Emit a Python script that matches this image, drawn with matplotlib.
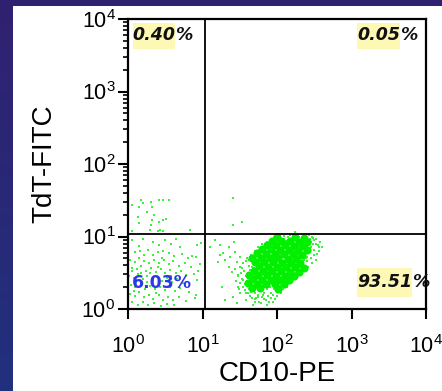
import matplotlib
matplotlib.use("Agg")
import matplotlib.pyplot as plt
from matplotlib.patches import Rectangle
import numpy as np

plt.rcParams['font.family'] = ['Liberation Sans', 'DejaVu Sans']
plt.rcParams['mathtext.fontset'] = 'custom'
plt.rcParams['mathtext.rm'] = 'Liberation Sans'

# quadrant gates and percentages
cd10_gate = 10.7
tdt_gate = 10.8
pct_ul = "0.40"
pct_ur = "0.05"
pct_ll = "6.03%"
pct_lr = "93.51"
decades = [0, 1, 2, 3, 4]

# events as log10 decades (CD10, TdT)
ll_events = [(0.05, 0.95), (0.20, 0.97), (0.33, 0.93), (0.42, 0.88), (0.50, 0.95), (0.58, 0.90),
             (0.65, 0.96), (0.86, 0.73), (0.92, 0.88), (0.10, 0.78), (0.16, 0.80), (0.27, 0.82),
             (0.33, 0.75), (0.40, 0.78), (0.47, 0.80), (0.55, 0.77), (0.62, 0.73), (0.72, 0.76),
             (0.80, 0.70), (0.03, 0.68), (0.09, 0.65), (0.15, 0.70), (0.22, 0.66), (0.28, 0.63),
             (0.35, 0.68), (0.42, 0.64), (0.48, 0.67), (0.55, 0.62), (0.61, 0.66), (0.69, 0.60),
             (0.76, 0.63), (0.85, 0.58), (0.05, 0.57), (0.12, 0.55), (0.18, 0.59), (0.24, 0.53),
             (0.31, 0.57), (0.37, 0.51), (0.44, 0.55), (0.50, 0.50), (0.57, 0.54), (0.64, 0.49),
             (0.71, 0.52), (0.78, 0.47), (0.02, 0.46), (0.08, 0.43), (0.14, 0.48), (0.20, 0.41),
             (0.26, 0.45), (0.33, 0.40), (0.39, 0.44), (0.46, 0.38), (0.52, 0.43), (0.59, 0.37),
             (0.66, 0.42), (0.74, 0.36), (0.93, 0.40), (0.04, 0.33), (0.10, 0.30), (0.17, 0.35),
             (0.23, 0.28), (0.30, 0.32), (0.36, 0.27), (0.43, 0.31), (0.49, 0.26), (0.56, 0.30),
             (0.63, 0.25), (0.70, 0.29), (0.82, 0.24), (0.03, 0.21), (0.09, 0.18), (0.15, 0.23),
             (0.21, 0.16), (0.28, 0.20), (0.34, 0.14), (0.41, 0.19), (0.47, 0.13), (0.54, 0.17),
             (0.60, 0.12), (0.68, 0.16), (0.78, 0.11), (0.90, 0.15), (0.06, 0.09), (0.13, 0.06),
             (0.20, 0.10), (0.27, 0.05), (0.35, 0.08), (0.44, 0.04), (0.52, 0.07), (0.62, 0.05),
             (0.12, 0.40), (0.25, 0.37), (0.18, 0.50), (0.06, 0.52), (0.30, 0.49), (0.40, 0.58),
             (0.22, 0.74), (0.45, 0.70), (0.08, 0.25), (0.38, 0.22), (0.58, 0.45), (0.96, 0.62),
             (0.88, 0.48), (0.15, 0.87), (0.70, 0.85), (0.91, 0.72), (0.98, 0.91), (0.94, 0.52),
             (0.91, 0.19)]

ul_events = [(0.17, 1.50), (0.20, 1.46), (0.15, 1.41), (0.31, 1.48), (0.32, 1.41), (0.42, 1.50),
             (0.47, 1.50), (0.55, 1.51), (0.26, 1.34), (0.35, 1.30), (0.13, 1.27), (0.42, 1.20),
             (0.51, 1.24), (0.15, 1.18), (0.31, 1.16), (0.29, 1.09), (0.47, 1.07), (0.06, 1.07),
             (0.40, 1.08), (0.32, 1.23), (0.47, 1.23), (0.43, 1.09), (0.83, 1.09), (0.05, 1.43)]

ur_events = [(1.41, 1.53), (1.41, 1.16), (1.53, 1.20), (2.24, 1.06)]

lr_sparse = [(1.10, 0.86), (1.17, 0.95), (1.23, 0.88), (1.23, 0.74), (1.21, 0.65), (1.28, 0.77),
             (1.30, 0.68), (1.35, 0.86), (1.37, 0.72), (1.35, 0.58), (1.39, 0.51), (1.44, 0.79),
             (1.46, 0.65), (1.48, 0.45), (1.48, 0.31), (1.50, 0.72), (1.53, 0.56), (1.41, 0.17),
             (1.30, 0.12), (1.46, 0.08), (1.57, 0.26), (1.61, 0.22), (1.66, 0.15), (1.70, 0.10),
             (1.75, 0.17), (1.55, 0.40), (2.48, 0.98), (1.26, 0.30), (1.42, 0.93)]

lr_halo = [(1.55, 0.30), (1.58, 0.22), (1.60, 0.38), (1.62, 0.28), (1.64, 0.18), (1.66, 0.44),
           (1.67, 0.33), (1.69, 0.25), (1.70, 0.14), (1.72, 0.40), (1.73, 0.30), (1.75, 0.20),
           (1.76, 0.10), (1.78, 0.27), (1.80, 0.16), (1.82, 0.30), (1.83, 0.22), (1.85, 0.12),
           (1.87, 0.27), (1.88, 0.18), (1.90, 0.30), (1.92, 0.22), (1.94, 0.35), (1.96, 0.28),
           (1.98, 0.38), (2.01, 0.33), (2.03, 0.42), (2.06, 0.40), (2.09, 0.46), (2.12, 0.44),
           (2.15, 0.50), (2.18, 0.53), (2.21, 0.56), (2.24, 0.60), (2.27, 0.58), (2.30, 0.65),
           (2.33, 0.70), (2.36, 0.68), (2.38, 0.75), (2.41, 0.80), (2.44, 0.78), (2.46, 0.86),
           (2.49, 0.82), (2.52, 0.90), (2.55, 0.88), (2.50, 0.95), (2.45, 0.93), (2.40, 0.96),
           (2.42, 0.88), (2.36, 0.92), (2.38, 0.99), (2.33, 0.96), (2.30, 1.00), (2.27, 0.95),
           (2.24, 0.98), (2.21, 1.01), (2.18, 0.96), (2.15, 0.99), (2.12, 0.94), (2.09, 0.97),
           (2.06, 0.92), (2.03, 0.95), (2.00, 0.89), (1.97, 0.92), (1.94, 0.86), (1.91, 0.84),
           (1.88, 0.80), (1.85, 0.78), (1.82, 0.74), (1.79, 0.72), (1.76, 0.69), (1.73, 0.66),
           (1.70, 0.62), (1.67, 0.58), (1.64, 0.54), (1.61, 0.50), (1.58, 0.46), (1.56, 0.52),
           (1.53, 0.42), (1.51, 0.36), (1.49, 0.28), (1.47, 0.47), (1.50, 0.58), (1.55, 0.63),
           (1.60, 0.70), (1.65, 0.75), (1.70, 0.80), (1.75, 0.86), (1.80, 0.90), (1.86, 0.93),
           (1.92, 0.97), (2.35, 0.60), (2.40, 0.66), (2.45, 0.70), (2.50, 0.74), (2.56, 0.80),
           (2.60, 0.85), (2.58, 0.93), (2.28, 0.52), (2.22, 0.47), (2.16, 0.42), (2.10, 0.37),
           (2.04, 0.32), (1.98, 0.25), (1.92, 0.15), (2.00, 0.18), (1.86, 0.06), (1.95, 0.10),
           (1.62, 0.60), (1.58, 0.66), (1.63, 0.68), (1.57, 0.34), (1.61, 0.45), (1.66, 0.50),
           (1.68, 0.38), (1.65, 0.24), (1.72, 0.15), (1.78, 0.08), (1.83, 0.14), (1.89, 0.10),
           (1.97, 0.14), (2.05, 0.22), (2.08, 0.28), (2.13, 0.30), (2.19, 0.38), (2.25, 0.42),
           (2.31, 0.47), (2.37, 0.52), (2.42, 0.58), (2.47, 0.64), (2.52, 0.68), (2.54, 0.76),
           (2.57, 0.86), (2.53, 0.97), (2.47, 1.00), (2.43, 1.02), (2.35, 1.01), (2.26, 1.02),
           (2.17, 1.02), (2.10, 1.01), (2.02, 1.00), (1.96, 0.99), (1.89, 0.91), (1.83, 0.86),
           (1.77, 0.80), (1.71, 0.74), (1.66, 0.70), (1.52, 0.50), (1.45, 0.38), (1.44, 0.55),
           (1.50, 0.22), (1.58, 0.12), (1.68, 0.06), (2.40, 0.72), (2.44, 0.84), (2.48, 0.90),
           (2.34, 0.84), (2.30, 0.90), (2.37, 0.78), (2.28, 0.74), (2.34, 0.64), (2.20, 0.92),
           (2.25, 0.88), (1.63, 0.36), (1.69, 0.56), (1.74, 0.74), (1.80, 0.82), (1.93, 0.90),
           (2.07, 0.96), (2.31, 0.58), (2.26, 0.50), (2.18, 0.45), (2.11, 0.40), (2.39, 0.70),
           (2.44, 0.97), (1.81, 0.20), (1.71, 0.22), (1.95, 0.20)]

# the solid core of the CD10+ blast cluster
lr_core = [(1.658, 0.290), (1.606, 0.352),
           (1.778, 0.287), (1.727, 0.348), (1.675, 0.410), (1.624, 0.471),
           (1.847, 0.345), (1.796, 0.406), (1.744, 0.468), (1.693, 0.529),
           (1.968, 0.342), (1.916, 0.403), (1.865, 0.464), (1.813, 0.526), (1.762, 0.587), (1.710, 0.648),
           (2.037, 0.400), (1.985, 0.461), (1.934, 0.522), (1.882, 0.584), (1.831, 0.645), (1.779, 0.706),
           (2.106, 0.458), (2.054, 0.519), (2.003, 0.580), (1.951, 0.642), (1.900, 0.703), (1.848, 0.764),
           (2.175, 0.516), (2.123, 0.577), (2.072, 0.638), (2.020, 0.700), (1.969, 0.761), (1.917, 0.822),
           (2.244, 0.573), (2.192, 0.634), (2.141, 0.695), (2.089, 0.757), (2.038, 0.818), (1.986, 0.879),
           (2.313, 0.631), (2.261, 0.692), (2.210, 0.753), (2.158, 0.815), (2.107, 0.876), (2.055, 0.937),
           (2.330, 0.750), (2.279, 0.811), (2.227, 0.873), (2.176, 0.934),
           (2.399, 0.808), (2.348, 0.869), (2.296, 0.931), (2.245, 0.992),
           (2.409, 0.920), (2.357, 0.982),
           (1.659, 0.709), (1.728, 0.767), (1.797, 0.825), (1.866, 0.883), (1.935, 0.940), (2.004, 0.998),
           (2.019, 0.281), (2.088, 0.339), (2.157, 0.397), (2.226, 0.455), (2.295, 0.512), (2.364, 0.570)]

W, H = 442, 391
fig = plt.figure(figsize=(W / 100, H / 100), dpi=100, facecolor='white')

# slide background: thin strips on the left and top of the white panel
top = np.array([0.19, 0.13, 0.44])
bot = np.array([0.13, 0.19, 0.49])
grad = top + (bot - top) * np.linspace(0, 1, 64)[:, None, None] * np.ones((1, 2, 1))
strip_l = fig.add_axes([0, 0, 13 / W, 1])
strip_l.imshow(grad, aspect='auto')
strip_l.axis('off')
strip_t = fig.add_axes([0, 1 - 6 / H, 1, 6 / H])
strip_t.imshow(np.full((1, 2, 3), top), aspect='auto')
strip_t.axis('off')

ax = fig.add_axes([128 / W, 1 - 309 / H, 298 / W, 290 / H])
ax.set_xscale('log')
ax.set_yscale('log')
ax.set_xlim(10 ** decades[0], 10 ** decades[-1])
ax.set_ylim(10 ** decades[0], 10 ** decades[-1])

green = '#3cf03c'
for pop in (ll_events, ul_events, ur_events, lr_sparse, lr_halo):
    arr = np.power(10.0, np.array(pop))
    ax.scatter(arr[:, 0], arr[:, 1], s=3, marker='s', color=green, linewidths=0, zorder=2)
core = np.power(10.0, np.array(lr_core))
ax.scatter(core[:, 0], core[:, 1], s=34, marker='o', color='#00f000', linewidths=0, zorder=2)

ax.axvline(cd10_gate, color='black', lw=1.3, zorder=3)
ax.axhline(tdt_gate, color='black', lw=1.3, zorder=3)

for s in ax.spines.values():
    s.set_linewidth(1.6)

ticks = [10.0 ** d for d in decades]
labels = [r'$\mathregular{10^{%d}}$' % d for d in decades]
ax.set_xticks(ticks, labels)
ax.set_yticks(ticks, labels)
ax.tick_params(which='major', direction='out', length=7, width=1.5, labelsize=15.5)
ax.tick_params(which='minor', direction='out', length=3.5, width=1.2)
ax.tick_params(axis='x', which='major', pad=12)
ax.tick_params(axis='y', which='major', pad=2)

ax.set_xlabel('CD10-PE', fontsize=20, labelpad=2)
ax.set_ylabel('TdT-FITC', fontsize=20, labelpad=17)

# quadrant percentages, yellow highlight behind the number
hl = '#fdf8b4'
tk = dict(fontsize=12.5, fontweight='bold', family='DejaVu Sans',
          transform=ax.transAxes, va='center', zorder=5)
for x0, x1, y0, y1, txt in [(0.017, 0.158, 0.897, 0.986, pct_ul),
                            (0.768, 0.913, 0.897, 0.986, pct_ur),
                            (0.768, 0.953, 0.041, 0.141, pct_lr)]:
    ax.add_patch(Rectangle((x0, y0), x1 - x0, y1 - y0, transform=ax.transAxes,
                           color=hl, lw=0, zorder=4))
    ax.text(x1, (y0 + y1) / 2 + 0.003, txt, ha='right', style='italic', color='#111111', **tk)
    ax.text(x1, (y0 + y1) / 2 + 0.003, '%', ha='left', style='italic', color='#111111',
            clip_on=False, **tk)
ax.text(0.013, 0.088, pct_ll, ha='left', color='#2a38e6', **tk)

fig.savefig('out.png', dpi=100)
